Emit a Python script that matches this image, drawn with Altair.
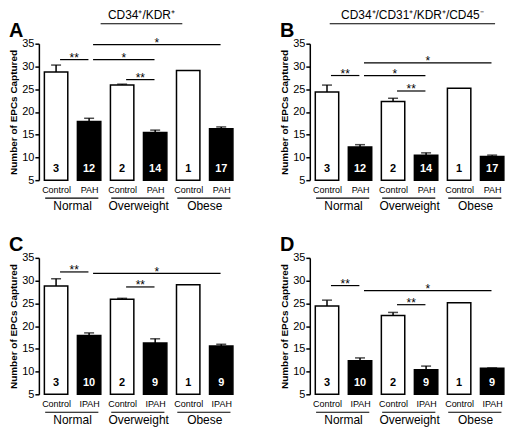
import altair as alt
import pandas as pd

FONT = "Liberation Sans"
groups = ["Normal", "Overweight", "Obese"]
positions = [0, 1, 2, 3, 4, 5]

letters = ["A", "B", "C", "D"]
titles = ["CD34⁺/KDR⁺", "CD34⁺/CD31⁺/KDR⁺/CD45⁻", "", ""]
title_widths = [82, 166, 0, 0]
patients = ["PAH", "PAH", "IPAH", "IPAH"]

means_A = [28.8, 17.9, 25.9, 15.5, 29.1, 16.3]
errs_A = [1.5, 0.7, 0.2, 0.5, 0.0, 0.4]
counts_A = [3, 12, 2, 14, 1, 17]
sig_from_A = [0, 1, 1, 2]
sig_to_A = [1, 5, 3, 3]
sig_y_A = [31.5, 34.8, 31.5, 27.1]
sig_label_A = ["**", "*", "*", "**"]

means_B = [24.4, 12.3, 22.3, 10.5, 25.2, 10.2]
errs_B = [1.5, 0.5, 0.7, 0.5, 0.0, 0.3]
counts_B = [3, 12, 2, 14, 1, 17]
sig_from_B = [0, 1, 1, 2]
sig_to_B = [1, 5, 3, 3]
sig_y_B = [28.0, 30.8, 28.0, 24.6]
sig_label_B = ["**", "*", "*", "**"]

means_C = [28.8, 17.9, 25.9, 16.3, 29.1, 15.6]
errs_C = [1.6, 0.6, 0.2, 0.9, 0.0, 0.4]
counts_C = [3, 10, 2, 9, 1, 9]
sig_from_C = [0, 1, 2]
sig_to_C = [1, 5, 3]
sig_y_C = [31.9, 31.6, 28.6]
sig_label_C = ["**", "*", "**"]

means_D = [24.4, 12.4, 22.3, 10.4, 25.1, 10.7]
errs_D = [1.3, 0.6, 0.7, 0.8, 0.0, 0.1]
counts_D = [3, 10, 2, 9, 1, 9]
sig_from_D = [0, 1, 2]
sig_to_D = [1, 5, 3]
sig_y_D = [28.9, 27.8, 24.7]
sig_label_D = ["**", "*", "**"]

W, H = 202, 137


def make_panel(letter, title, title_w, patient, means, errs, counts, sf, st, sy, sl):
    bars = pd.DataFrame({"pos": positions, "mean": means, "err": errs, "n": counts,
                         "patient": [p % 2 == 1 for p in positions]})
    sig = pd.DataFrame({"a": sf, "b": st, "y": sy, "label": sl})
    grp = pd.DataFrame({"group": groups, "gi": [0, 1, 2]})
    head = pd.DataFrame({"letter": [letter], "title": [title]})

    xs = alt.Scale(domain=[-0.37, 5.42], nice=False, zero=False)
    xax = alt.Axis(values=positions,
                   labelExpr=f"datum.value % 2 == 0 ? 'Control' : '{patient}'",
                   title=None, domain=False, ticks=False, grid=False, labelAngle=0,
                   labelFontSize=9, labelPadding=5, labelFlush=False, labelOverlap=False,
                   labelColor="black", labelFont=FONT)
    ys = alt.Scale(domain=[5, 35], nice=False, zero=False)
    yax = alt.Axis(values=[5, 10, 15, 20, 25, 30, 35], title="Number of EPCs Captured",
                   grid=False, tickSize=4, tickWidth=1.5, tickColor="black",
                   domainColor="black", domainWidth=1.5, labelFontSize=11, labelPadding=1,
                   labelColor="black", labelFont=FONT, titleFont=FONT, titleFontSize=10,
                   titleFontWeight="bold", titleColor="black", titleX=-20, titleY=H / 2,
                   titleAngle=270, titleBaseline="bottom", titleAlign="center")

    def X(f):
        return alt.X(f, scale=xs, axis=xax)

    def Y(f):
        return alt.Y(f, scale=ys, axis=yax)

    base = alt.Chart(bars)
    bar = base.mark_bar(size=23.5, stroke="black", strokeWidth=1.5).encode(
        x=X("pos:Q"), y=Y("mean:Q"), y2=alt.datum(5),
        fill=alt.condition("datum.patient", alt.value("black"), alt.value("white")))
    ebase = base.transform_filter("datum.err > 0").transform_calculate(top="datum.mean + datum.err")
    err = ebase.mark_rule(strokeWidth=1.5, color="black").encode(
        x=X("pos:Q"), y=Y("mean:Q"), y2="top:Q")
    cap = ebase.mark_tick(orient="horizontal", size=10, thickness=1.5, color="black").encode(
        x=X("pos:Q"), y=Y("top:Q"))
    cnt = base.mark_text(fontSize=11, fontWeight="bold", baseline="middle").encode(
        x=X("pos:Q"), y=alt.value(H - 11), text="n:Q",
        color=alt.condition("datum.patient", alt.value("white"), alt.value("black")))

    sbase = alt.Chart(sig).transform_calculate(
        x1="datum.a + 0.12", x2="datum.b - 0.02", xm="(datum.a + datum.b + 0.1) / 2")
    lines = sbase.mark_rule(strokeWidth=1.2, color="black").encode(
        x=X("x1:Q"), x2="x2:Q", y=Y("y:Q"))
    stars = sbase.mark_text(fontSize=12, baseline="alphabetic", dy=2.5, color="black").encode(
        x=X("xm:Q"), y=Y("y:Q"), text="label:N")

    gbase = alt.Chart(grp).transform_calculate(
        g1="2 * datum.gi - 0.33", g2="2 * datum.gi + 1.28", gm="2 * datum.gi + 0.5")
    gline = gbase.mark_rule(strokeWidth=1.2, color="black").encode(
        x=X("g1:Q"), x2="g2:Q", y=alt.value(H + 18))
    gtext = gbase.mark_text(fontSize=12, baseline="top", color="black").encode(
        x=X("gm:Q"), y=alt.value(H + 21), text="group:N")

    hbase = alt.Chart(head)
    let = hbase.mark_text(fontSize=20, fontWeight="bold", align="left", baseline="top",
                          color="black").encode(
        x=alt.value(-30), y=alt.value(-23), text="letter:N")
    layers = [bar, err, cap, cnt, lines, stars, gline, gtext, let]
    if title:
        ttl = hbase.mark_text(fontSize=12, baseline="top", color="black").encode(
            x=alt.value(103), y=alt.value(-34), text="title:N")
        trule = hbase.mark_rule(strokeWidth=1.2, color="black").encode(
            x=alt.value(103 - title_w / 2), x2=alt.value(103 + title_w / 2), y=alt.value(-20))
        layers += [ttl, trule]
    return alt.layer(*layers).properties(width=W, height=H)


pA = make_panel(letters[0], titles[0], title_widths[0], patients[0], means_A, errs_A, counts_A,
                sig_from_A, sig_to_A, sig_y_A, sig_label_A)
pB = make_panel(letters[1], titles[1], title_widths[1], patients[1], means_B, errs_B, counts_B,
                sig_from_B, sig_to_B, sig_y_B, sig_label_B)
pC = make_panel(letters[2], titles[2], title_widths[2], patients[2], means_C, errs_C, counts_C,
                sig_from_C, sig_to_C, sig_y_C, sig_label_C)
pD = make_panel(letters[3], titles[3], title_widths[3], patients[3], means_D, errs_D, counts_D,
                sig_from_D, sig_to_D, sig_y_D, sig_label_D)

chart = (alt.concat(pA, pB, pC, pD, columns=2, bounds="flush",
                    spacing=alt.RowColnumber(row=78, column=70))
         .properties(padding=0)
         .configure(font=FONT)
         .configure_view(stroke=None))

chart.save("out.html", embed_options={"renderer": "svg", "actions": False})
